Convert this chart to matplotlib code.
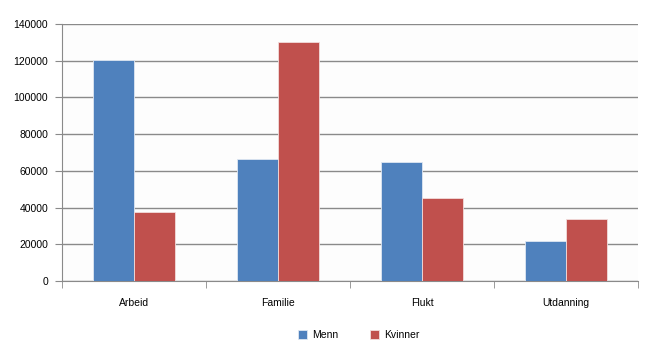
import numpy as np
import matplotlib
matplotlib.use("Agg")
import matplotlib.pyplot as plt

plt.rcParams["font.family"] = ["Liberation Sans", "DejaVu Sans"]

categories = ["Arbeid", "Familie", "Flukt", "Utdanning"]
menn = [120500, 66300, 64700, 21800]
kvinner = [37400, 130000, 45100, 33600]

blue = "#4F81BD"
red = "#C0504D"

fig = plt.figure(figsize=(6.5, 3.6), dpi=100)
ax = fig.add_axes([0.0954, 0.2194, 0.886, 0.7139])
ax.set_facecolor("#FDFDFD")

x = np.arange(len(categories))
w = 0.285
ax.bar(x - w/2, menn, w, color=blue, edgecolor="#dfe7f2", linewidth=0.6, label="Menn", zorder=3)
ax.bar(x + w/2, kvinner, w, color=red, edgecolor="#f2dcdc", linewidth=0.6, label="Kvinner", zorder=3)

ax.set_ylim(0, 140000)
ax.set_yticks(range(0, 140001, 20000))
ax.set_yticklabels([str(v) for v in range(0, 140001, 20000)])
ax.yaxis.grid(True, color="#8a8a8a", linewidth=1.0, zorder=0)
ax.set_axisbelow(True)

ax.set_xlim(-0.5, len(categories) - 0.5)
ax.set_xticks(x)
ax.set_xticklabels(categories)
ax.set_xticks(np.arange(-0.5, len(categories)), minor=True)
ax.tick_params(axis="x", which="major", length=0, pad=12, labelsize=7.5)
ax.tick_params(axis="x", which="minor", length=5, color="#8a8a8a", direction="out")
ax.tick_params(axis="y", length=5, color="#8a8a8a", labelsize=7.5, pad=5)

for s in ["top", "right"]:
    ax.spines[s].set_visible(False)
ax.spines["left"].set_color("#8a8a8a")
ax.spines["bottom"].set_color("#8a8a8a")

fig.legend(loc="center", bbox_to_anchor=(0.552, 0.07), ncol=2, frameon=False,
           fontsize=7.5, handlelength=0.9, handleheight=0.9, columnspacing=3.0,
           handletextpad=0.5)

fig.savefig("out.png", dpi=100, facecolor="white")
